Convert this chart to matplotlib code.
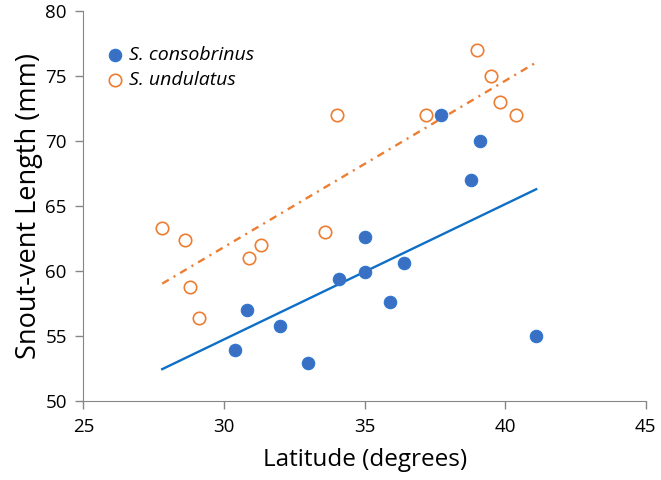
import numpy as np
import matplotlib
matplotlib.use("Agg")
import matplotlib.pyplot as plt

plt.rcParams['font.family'] = ['Open Sans', 'DejaVu Sans']
plt.rcParams['lines.scale_dashes'] = False

# S. consobrinus (filled blue)
cons_lat = [30.4, 30.8, 32.0, 33.0, 34.1, 35.0, 35.0, 35.9, 36.4, 41.1, 37.7, 39.1, 38.8]
cons_svl = [53.9, 57.0, 55.8, 52.9, 59.4, 59.9, 62.6, 57.6, 60.6, 55.0, 72.0, 70.0, 67.0]

# S. undulatus (open orange)
und_lat = [27.8, 28.6, 28.8, 29.1, 30.9, 31.3, 33.6, 34.0, 37.2, 39.0, 39.5, 39.8, 40.4]
und_svl = [63.3, 62.4, 58.8, 56.4, 61.0, 62.0, 63.0, 72.0, 72.0, 77.0, 75.0, 73.0, 72.0]

blue = '#3A70C4'
blue_line = '#0F6FC6'
orange = '#ED7D31'

fig = plt.figure(figsize=(6.61, 4.8), dpi=100)
ax = fig.add_axes([0.1263, 0.1646, 0.8507, 0.8125])

ax.scatter(cons_lat, cons_svl, s=80, color=blue, edgecolors='#2E75D0', linewidths=0.8,
           label='S. consobrinus', zorder=3)
ax.scatter(und_lat, und_svl, s=80, facecolors='white', edgecolors=orange, linewidths=1.2,
           label='S. undulatus', zorder=3)

# linear trend lines over the full latitude range
x0 = min(cons_lat + und_lat)
x1 = max(cons_lat + und_lat)
xs = np.array([x0, x1])
b = np.polyfit(cons_lat, cons_svl, 1)
ax.plot(xs, np.polyval(b, xs), color=blue_line, lw=1.7, zorder=2)
o = np.polyfit(und_lat, und_svl, 1)
ax.plot(xs, np.polyval(o, xs), color=orange, lw=1.7, dashes=(5.5, 4, 1.5, 4), zorder=2)

ax.set_xlim(25, 45)
ax.set_ylim(50, 80)
ax.set_xticks([25, 30, 35, 40, 45])
ax.set_yticks([50, 55, 60, 65, 70, 75, 80])
ax.tick_params(labelsize=13.5, length=6, width=1, color='#868686', direction='out', pad=6)

for side in ['top', 'right']:
    ax.spines[side].set_visible(False)
for side in ['left', 'bottom']:
    ax.spines[side].set_color('#868686')

ax.set_xlabel('Latitude (degrees)', fontsize=17.5, labelpad=9)
ax.set_ylabel('Snout-vent Length (mm)', fontsize=19.5, labelpad=2)

leg = ax.legend(loc='upper left', bbox_to_anchor=(0.039, 0.909), frameon=False,
                prop={'style': 'italic', 'size': 14}, handlelength=1.0, handletextpad=0.22,
                labelspacing=0.35, borderaxespad=0.0, borderpad=0.0)

fig.savefig('out.png', dpi=100)
